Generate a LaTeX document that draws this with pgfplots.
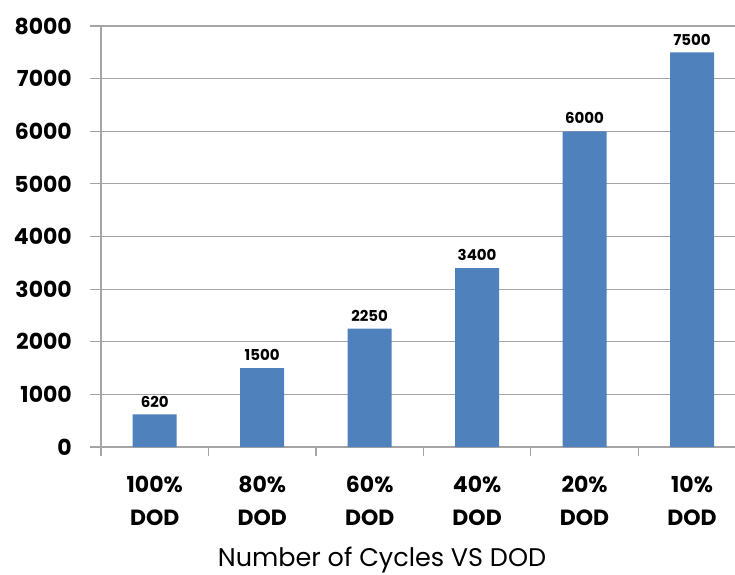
\documentclass[border=0pt]{standalone}
\usepackage{fontspec}
\setmainfont{Poppins}
\usepackage{pgfplots}
\pgfplotsset{compat=1.18}
\definecolor{barblue}{RGB}{79,129,189}
\definecolor{gridgray}{RGB}{165,165,165}
\begin{document}
\begin{tikzpicture}
\useasboundingbox (-101pt,-127pt) rectangle (634pt,447pt);
\begin{axis}[
  at={(0,0)}, anchor=south west,
  scale only axis,
  width=634pt, height=421pt,
  xmin=-0.5, xmax=5.4,
  ymin=0, ymax=8000,
  ytick={0,1000,...,8000},
  xtick={0,1,2,3,4,5},
  xticklabels={{100\%\\DOD},{80\%\\DOD},{60\%\\DOD},{40\%\\DOD},{20\%\\DOD},{10\%\\DOD}},
  axis lines=left,
  axis line style={-, draw=gridgray, line width=1.2pt},
  ymajorgrids,
  major grid style={draw=gridgray, line width=1.2pt},
  tick align=outside,
  major tick length=11pt,
  ytick style={draw=gridgray, line width=1.2pt},
  xtick style={draw=none},
  extra x ticks={-0.5,0.5,1.5,2.5,3.5,4.5},
  extra x tick labels={},
  extra x tick style={grid=none, major tick length=9pt, xtick style={draw=gridgray, line width=1.2pt}},
  /pgf/number format/assume math mode=true,
  /pgf/number format/1000 sep={},
  yticklabel style={font=\bfseries\fontsize{22}{22}\selectfont, anchor=east, inner sep=0pt, xshift=-18pt},
  xticklabel style={font=\bfseries\fontsize{22}{33}\selectfont, align=center, anchor=north, inner sep=0pt, yshift=-18pt},
  ybar,
  bar width=44pt,
  bar shift=0pt,
  nodes near coords,
  nodes near coords style={font=\bfseries\fontsize{15}{15}\selectfont, anchor=south, inner sep=0pt, yshift=7pt},
  clip=false,
]
\addplot[fill=barblue, draw=none] coordinates {(0,620) (1,1500) (2,2250) (3,3400) (4,6000) (5,7500)};
\end{axis}
\node[anchor=base, font=\fontsize{25.5}{25.5}\selectfont] at (281pt,-119pt) {Number of Cycles VS DOD};
\end{tikzpicture}
\end{document}
